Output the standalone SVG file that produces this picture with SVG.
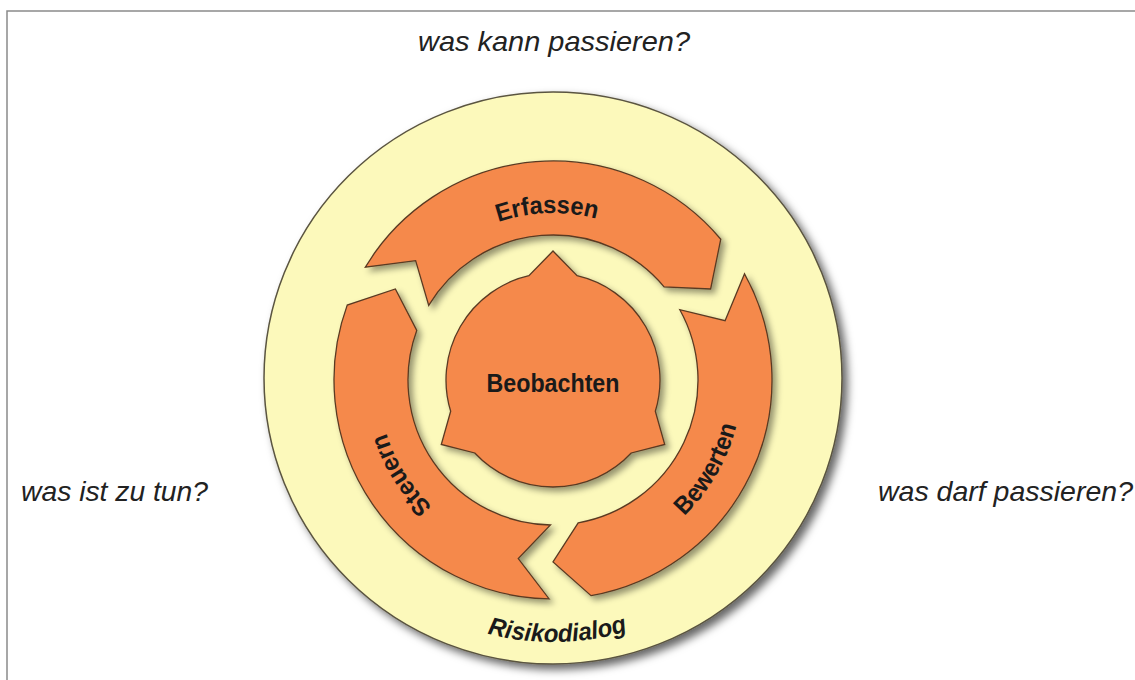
<svg xmlns="http://www.w3.org/2000/svg" width="1135" height="680" viewBox="0 0 1135 680">
  <defs>
    <filter id="shadowBig" x="-20%" y="-20%" width="140%" height="140%">
      <feDropShadow dx="5" dy="5" stdDeviation="4" flood-color="#000" flood-opacity="0.6"/>
    </filter>
    <filter id="shadow" x="-20%" y="-20%" width="140%" height="140%">
      <feDropShadow dx="4" dy="4" stdDeviation="3" flood-color="#000" flood-opacity="0.4"/>
    </filter>
    <path id="pErfassen" d="M394.17,328.39 A167,167 0 0 1 707.84,317.44"/>
    <path id="pBewerten" d="M520.18,566.13 A189,189 0 0 0 697.78,258.51"/>
    <path id="pSteuern" d="M588.97,549.22 A172,172 0 0 1 416.67,273.49"/>
    <path id="pRisiko" d="M308.40,473.89 A262,262 0 0 0 800.73,465.30"/>
  </defs>
  <style>
    .q { font-family: "Liberation Sans", Arial, sans-serif; font-style: italic; font-size: 28px; fill: #222; }
    .lbl { font-family: "Liberation Sans Narrow", "Liberation Sans", Arial, sans-serif; font-weight: bold; font-size: 25px; fill: #1a1a1a; }
    .arrow { fill: #f5894b; stroke: #5a3a22; stroke-width: 1.3; stroke-linejoin: miter; filter: url(#shadow); }
  </style>
  <rect x="0" y="0" width="1135" height="680" fill="#ffffff"/>
  <path d="M7,680 V11 H1135" fill="none" stroke="#8a8a8a" stroke-width="1.5"/>

  <g id="questions">
    <text class="q" x="418" y="51" font-size="29" textLength="272" lengthAdjust="spacingAndGlyphs">was kann passieren?</text>
    <text class="q" x="21" y="501" textLength="187" lengthAdjust="spacingAndGlyphs">was ist zu tun?</text>
    <text class="q" x="878" y="501" textLength="255" lengthAdjust="spacingAndGlyphs">was darf passieren?</text>
  </g>

  <g id="node-risikodialog">
    <ellipse cx="553" cy="378" rx="289" ry="286" fill="#fcf9bb" stroke="#5a5440" stroke-width="1.5" filter="url(#shadowBig)"/>
    <text class="lbl" font-style="italic" font-size="24"><textPath href="#pRisiko" startOffset="50%" text-anchor="middle" textLength="142" lengthAdjust="spacingAndGlyphs">Risikodialog</textPath></text>
  </g>

  <g id="connectors">
    <g id="node-erfassen">
      <path class="arrow" d="M365.28,267.21 A219,219 0 0 1 720.77,239.23 L710.62,289 L664.08,286.80 A145,145 0 0 0 428.71,305.32 L415.64,260.60 Z"/>
      <text class="lbl"><textPath href="#pErfassen" startOffset="50%" text-anchor="middle" textLength="100" lengthAdjust="spacingAndGlyphs">Erfassen</textPath></text>
    </g>
    <g id="node-bewerten">
      <path class="arrow" d="M744.54,273.83 A219,219 0 0 1 591.03,595.67 L553,562 L578.18,522.80 A145,145 0 0 0 679.82,309.70 L725.08,320.75 Z"/>
      <text class="lbl"><textPath href="#pBewerten" startOffset="50%" text-anchor="middle" textLength="106" lengthAdjust="spacingAndGlyphs">Bewerten</textPath></text>
    </g>
    <g id="node-steuern">
      <path class="arrow" d="M549.18,598.97 A219,219 0 0 1 347.21,305.10 L395.38,289 L416.74,330.41 A145,145 0 0 0 550.47,524.98 L518.27,558.66 Z"/>
      <text class="lbl"><textPath href="#pSteuern" startOffset="50%" text-anchor="middle" textLength="88" lengthAdjust="spacingAndGlyphs">Steuern</textPath></text>
    </g>
  </g>

  <g id="node-beobachten">
    <path class="arrow" d="M577.07,275.74 A107,107 0 0 1 655.32,411.28 L664.72,444.5 L631.25,452.97 A107,107 0 0 1 474.75,452.97 L441.28,444.5 L450.68,411.28 A107,107 0 0 1 528.93,275.74 L553,251 Z"/>
    <text class="lbl" x="553" y="392" font-size="28" text-anchor="middle" textLength="133" lengthAdjust="spacingAndGlyphs">Beobachten</text>
  </g>
</svg>
